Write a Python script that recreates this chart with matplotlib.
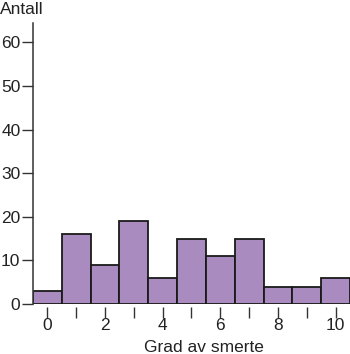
import matplotlib.pyplot as plt

# grad av smerte (0-10) og antall
grad = [0, 1, 2, 3, 4, 5, 6, 7, 8, 9, 10]
antall = [3, 16, 9, 19, 6, 15, 11, 15, 4, 4, 6]
x_ticks = [0, 2, 4, 6, 8, 10]
y_ticks = [0, 10, 20, 30, 40, 50, 60]

plt.rcParams['font.family'] = ['Liberation Sans', 'DejaVu Sans']
fs = 12.5

fig = plt.figure(figsize=(3.5, 3.54), dpi=100)
ax = fig.add_axes([0.094, 0.141, 0.906, 0.794])

ax.bar(grad, antall, width=1.0, color='#a98bc0', edgecolor='#1a1a1a', linewidth=1.3)

ax.set_xlim(-0.5, 10.5)
ax.set_ylim(0, 64.4)

ax.spines['top'].set_visible(False)
ax.spines['right'].set_visible(False)
ax.spines['bottom'].set_visible(False)
ax.spines['left'].set_linewidth(1.1)
ax.spines['left'].set_color('#333333')

ax.set_yticks(y_ticks)
ax.tick_params(axis='y', direction='out', length=8, width=1.0, color='#333333',
               labelsize=fs, pad=1, labelcolor='#222222')

# ticks at every grade, labels on even ones only; hang a little below the bars
ax.set_xticks(grad, minor=True)
ax.set_xticks(x_ticks)
ax.tick_params(axis='x', which='both', direction='out', length=8, width=1.0,
               color='#333333', labelsize=fs, pad=0, labelcolor='#222222')
ax.spines['bottom'].set_position(('outward', 2))

ax.set_xlabel('Grad av smerte', fontsize=fs, color='#222222')
ax.xaxis.set_label_coords(0.539, -0.128)
fig.text(0.0, 0.995, 'Antall', fontsize=fs, color='#222222', ha='left', va='top')

plt.savefig('out.png', dpi=100)
plt.close()
